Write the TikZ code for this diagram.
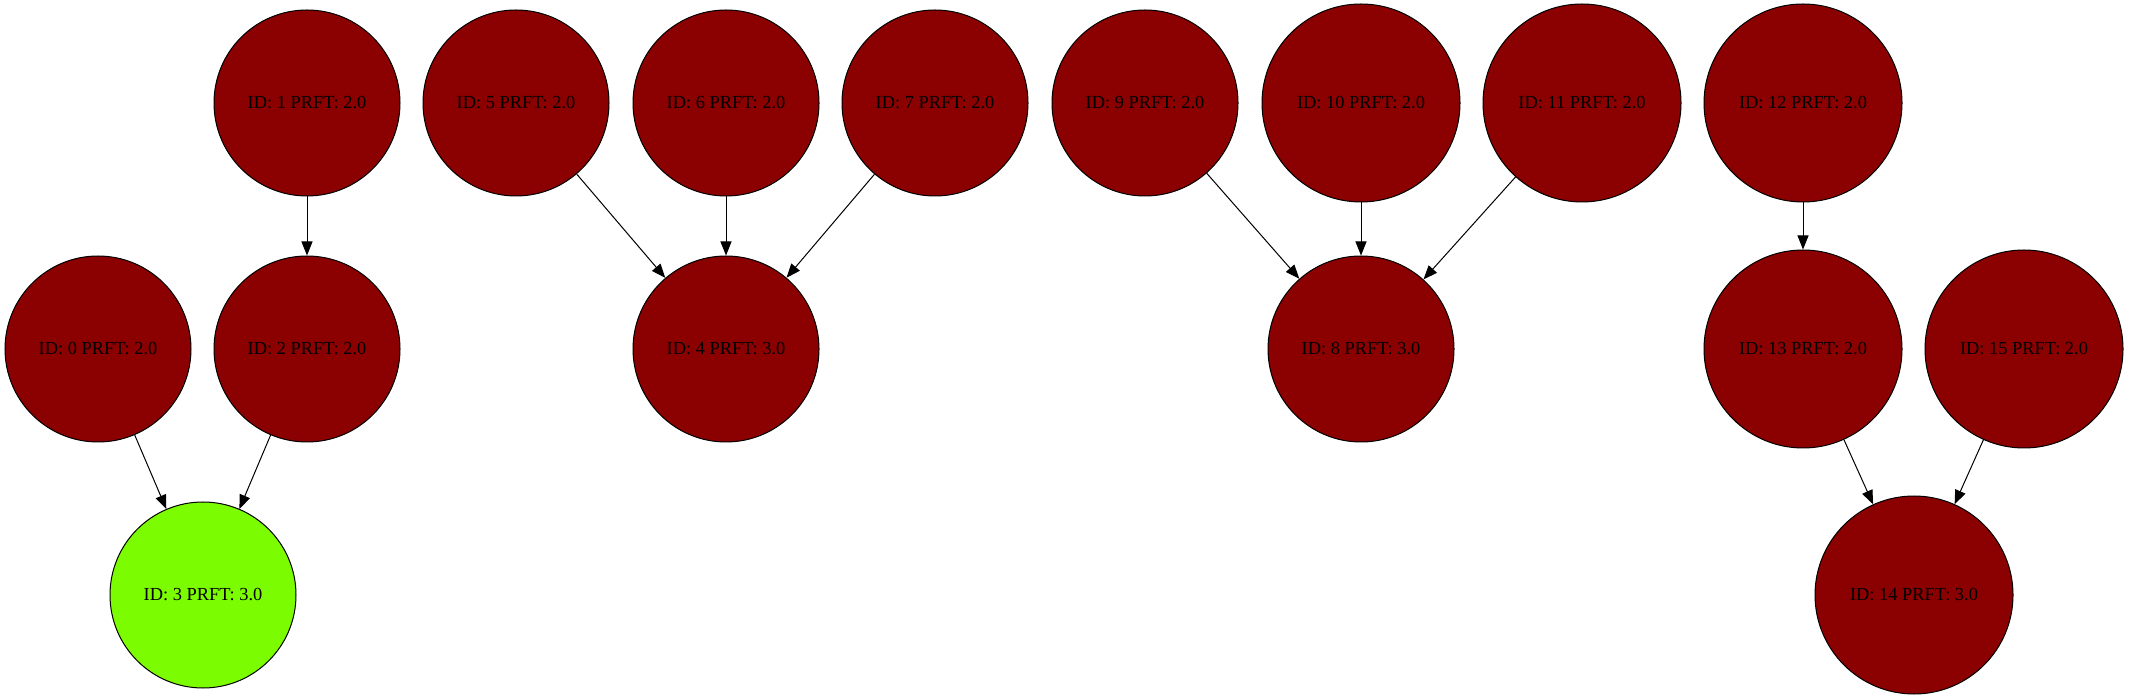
\documentclass[tikz,border=0pt]{standalone}
\usepackage{fontspec}
\setmainfont{Liberation Serif}
\usetikzlibrary{arrows.meta}
\definecolor{nodered}{HTML}{8B0000}
\definecolor{nodegreen}{HTML}{7CFC00}
\tikzset{
  vert/.style={circle, draw, line width=0.5pt, fill=nodered, inner sep=0pt,
    minimum size=93pt, font=\fontsize{9.2}{11}\selectfont},
  wide/.style={minimum size=99pt},
  goal/.style={fill=nodegreen},
  arc/.style={-{Triangle[length=7pt,width=5.5pt]}, line width=0.5pt}
}
\begin{document}
\begin{tikzpicture}[x=0.5pt,y=-0.5pt]
\useasboundingbox (0,0) rectangle (2129,699);
% single digit ids
\foreach \i/\x/\y/\p in {0/98/349/2.0, 1/307/103/2.0, 2/307/349/2.0, 4/726/349/3.0,
    5/516/103/2.0, 6/726/103/2.0, 7/935/103/2.0, 8/1361/349/3.0, 9/1145/103/2.0} {
    \node[vert] (v\i) at (\x,\y) {ID: \i\ PRFT: \p};
}
\node[vert, goal] (v3) at (203,595) {ID: 3 PRFT: 3.0};
% two digit ids
\foreach \i/\x/\y/\p in {10/1361/103/2.0, 11/1582/103/2.0, 12/1803/103/2.0,
    13/1803/349/2.0, 14/1914/595/3.0, 15/2024/349/2.0} {
    \node[vert, wide] (v\i) at (\x,\y) {ID: \i\ PRFT: \p};
}
\foreach \a/\b in {0/3, 2/3, 1/2, 5/4, 6/4, 7/4, 9/8, 10/8, 11/8, 12/13, 13/14, 15/14} {
    \draw[arc] (v\a) -- (v\b);
}
\end{tikzpicture}
\end{document}
